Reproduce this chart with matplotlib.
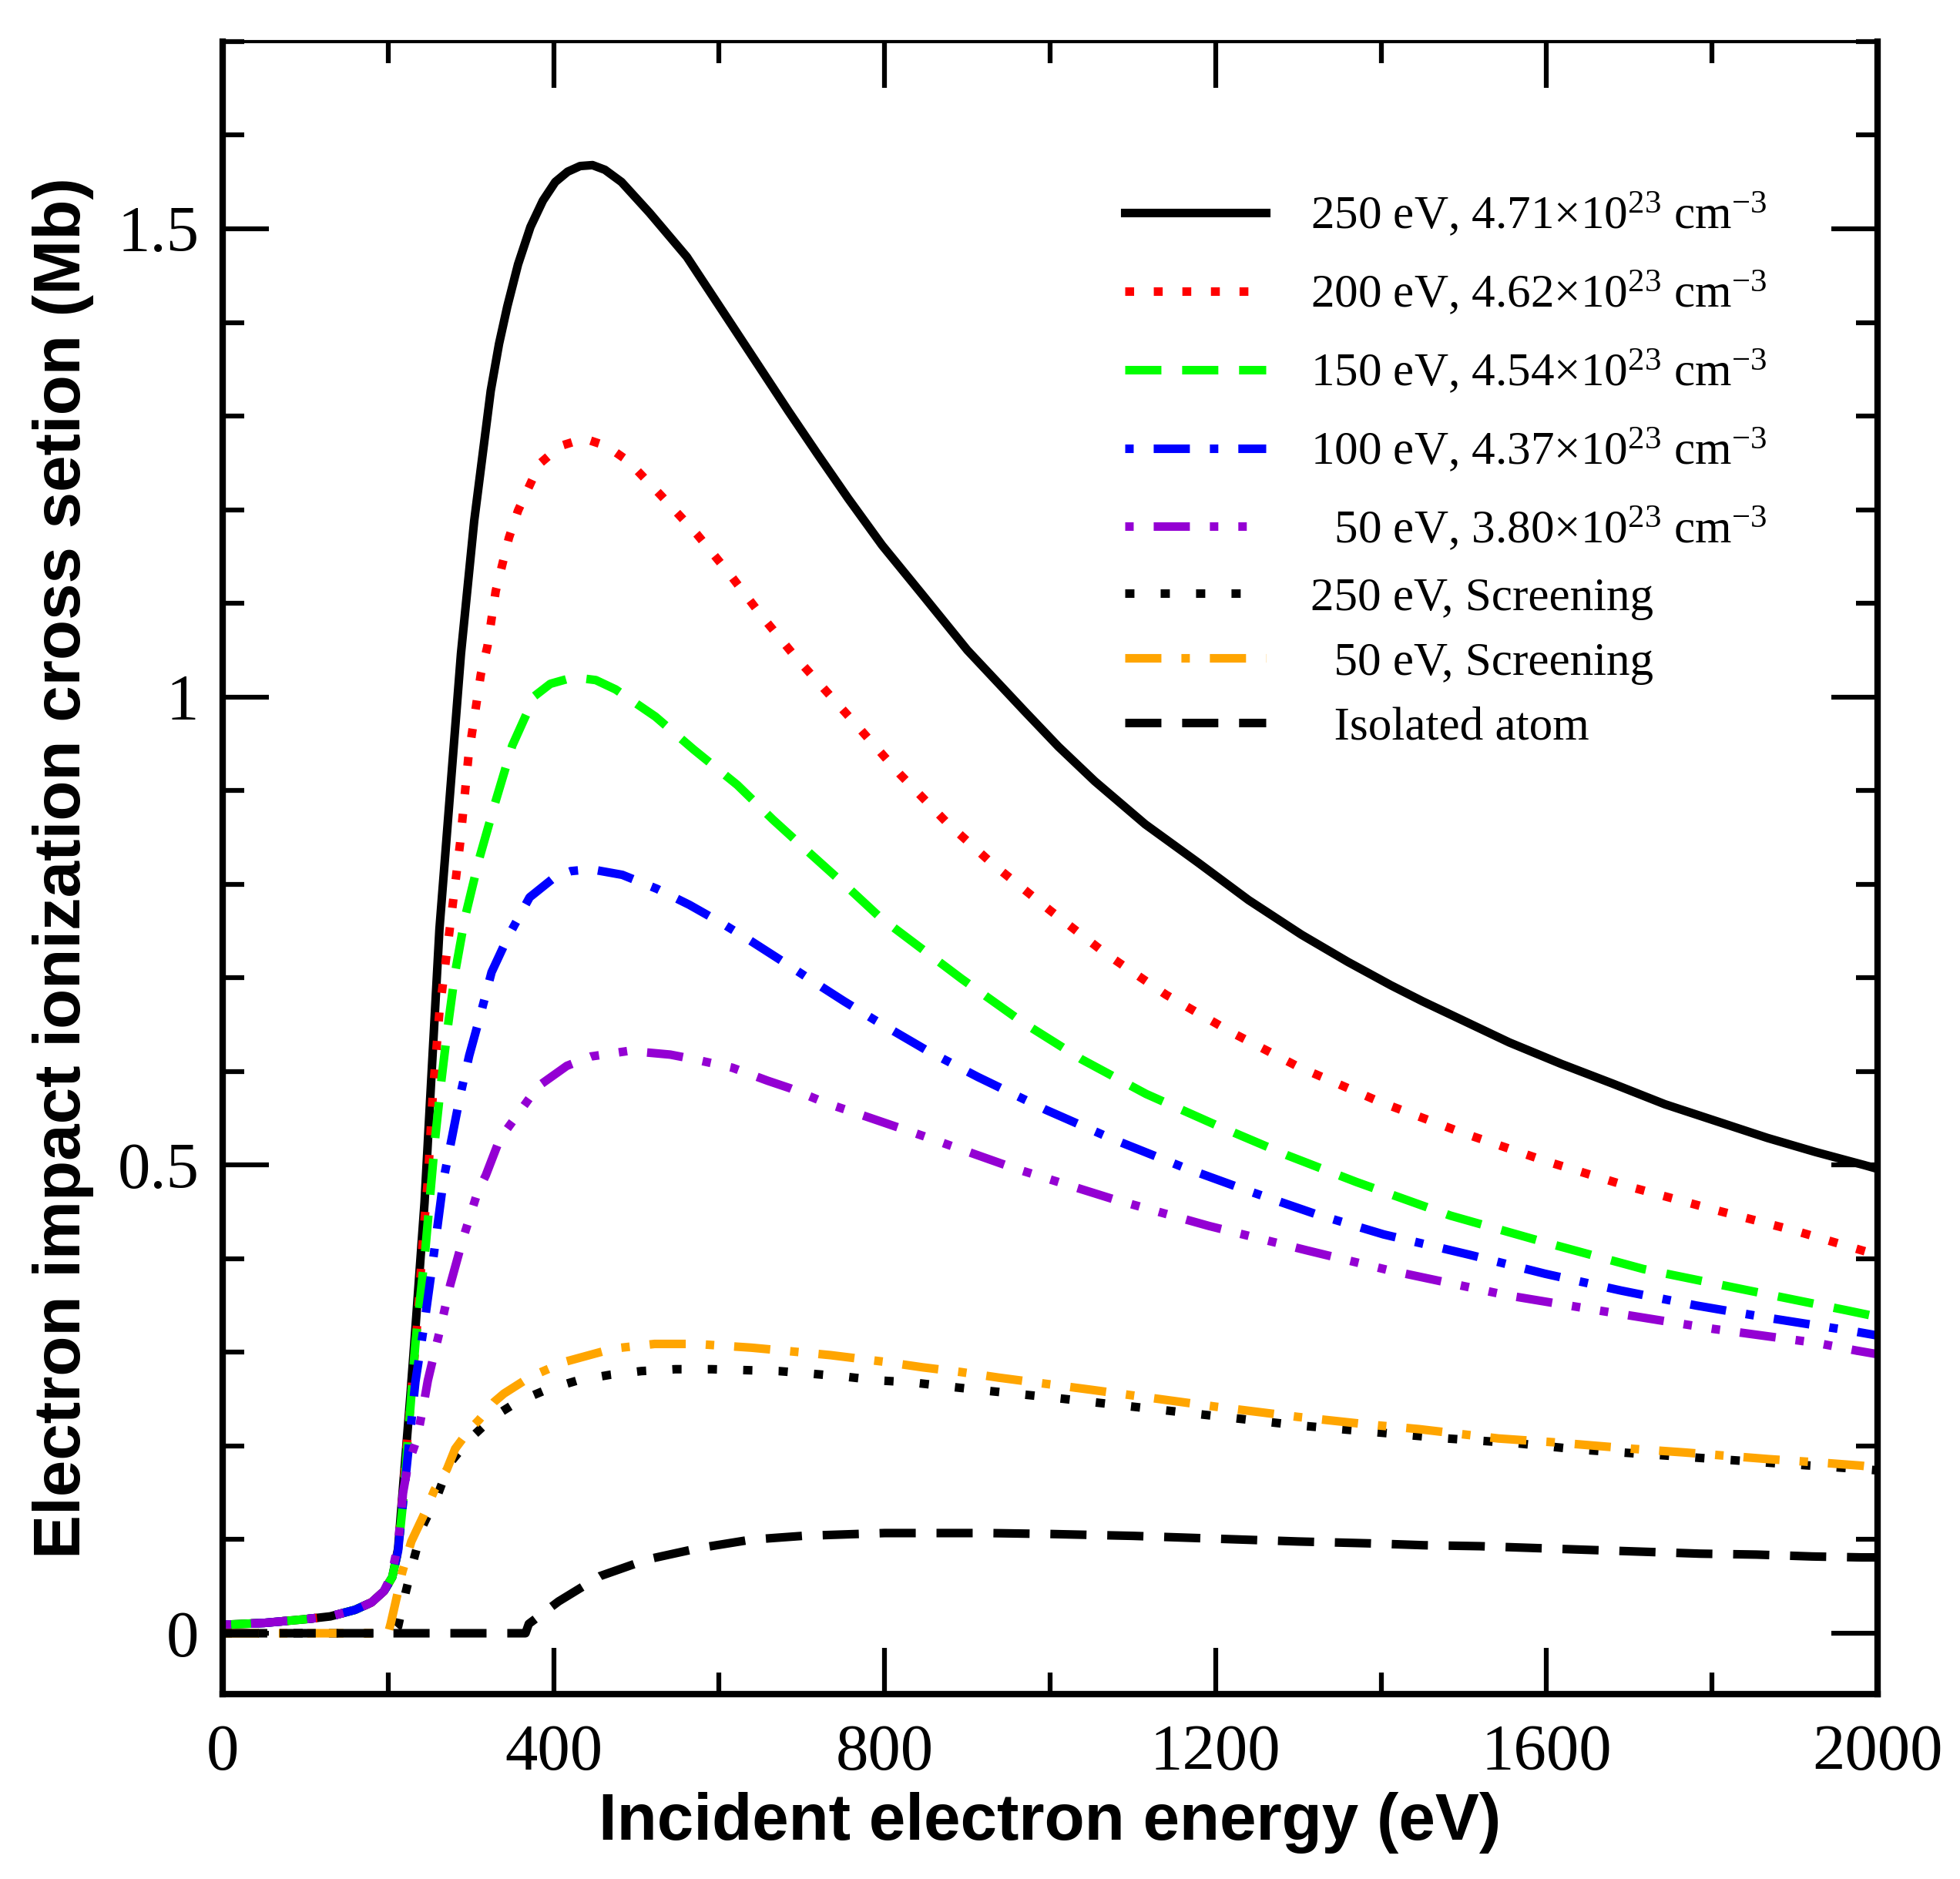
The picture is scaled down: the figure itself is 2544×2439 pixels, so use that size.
import matplotlib
matplotlib.use('Agg')
import matplotlib.pyplot as plt
from matplotlib import font_manager

# ---- data (x in eV, y in Mb) ----
x_250 = [0, 50, 100, 130, 160, 180, 195, 205, 212, 217, 222, 227, 234, 244, 262, 288, 304, 324,
         334, 344, 357, 372, 387, 402, 417, 432, 447, 462, 482, 516, 561, 614, 684, 720, 756,
         797, 845, 900, 969, 1010, 1054, 1115, 1179, 1240, 1304, 1360, 1412, 1450, 1493, 1555,
         1618, 1680, 1743, 1805, 1867, 1925, 1984, 2000]
y_250 = [0.009, 0.011, 0.015, 0.018, 0.025, 0.033, 0.045, 0.060, 0.090, 0.145, 0.200, 0.255, 0.338,
         0.460, 0.752, 1.046, 1.188, 1.327, 1.377, 1.417, 1.462, 1.502, 1.530, 1.550, 1.561, 1.567,
         1.568, 1.563, 1.550, 1.517, 1.470, 1.399, 1.305, 1.258, 1.212, 1.162, 1.110, 1.050, 0.985,
         0.947, 0.910, 0.864, 0.823, 0.783, 0.746, 0.717, 0.692, 0.675, 0.657, 0.631, 0.608, 0.587,
         0.565, 0.547, 0.529, 0.514, 0.500, 0.496]

x_200 = [0, 50, 100, 130, 160, 180, 195, 205, 212, 217, 222, 228, 236, 242, 248, 254, 262, 275,
         287, 297, 312, 320, 330, 346, 357, 383, 408, 437, 464, 490, 530, 573, 613, 651, 691, 760,
         818, 875, 930, 1000, 1067, 1140, 1221, 1300, 1400, 1500, 1600, 1700, 1800, 1900, 2000]
y_200 = [0.009, 0.011, 0.015, 0.018, 0.025, 0.033, 0.045, 0.060, 0.088, 0.140, 0.195, 0.255, 0.340,
         0.420, 0.484, 0.576, 0.664, 0.756, 0.844, 0.936, 1.024, 1.054, 1.113, 1.170, 1.199, 1.249,
         1.268, 1.276, 1.268, 1.252, 1.215, 1.174, 1.131, 1.087, 1.044, 0.976, 0.918, 0.866, 0.822,
         0.772, 0.726, 0.682, 0.641, 0.605, 0.567, 0.534, 0.504, 0.477, 0.453, 0.430, 0.404]

x_150 = [0, 50, 100, 130, 160, 180, 195, 205, 212, 218, 225, 233, 245, 252, 257, 264, 272, 281,
         293, 310, 329, 350, 377, 396, 424, 451, 475, 523, 569, 622, 665, 711, 755, 794, 893, 966,
         1038, 1116, 1200, 1288, 1370, 1484, 1600, 1717, 1839, 1962, 2000]
y_150 = [0.009, 0.011, 0.015, 0.018, 0.025, 0.033, 0.045, 0.060, 0.088, 0.140, 0.220, 0.310, 0.410,
         0.480, 0.530, 0.588, 0.647, 0.706, 0.765, 0.827, 0.886, 0.948, 1.001, 1.014, 1.021, 1.018,
         1.008, 0.979, 0.944, 0.906, 0.869, 0.832, 0.797, 0.765, 0.699, 0.653, 0.613, 0.576, 0.543,
         0.510, 0.482, 0.446, 0.417, 0.389, 0.367, 0.345, 0.338]

x_100 = [0, 50, 100, 130, 160, 180, 195, 205, 212, 218, 225, 233, 244, 256, 267, 277, 287, 298,
         312, 325, 345, 371, 402, 421, 445, 483, 525, 564, 604, 639, 676, 714, 751, 788, 850, 913,
         995, 1075, 1160, 1241, 1320, 1403, 1508, 1598, 1690, 1781, 1874, 1968, 2000]
y_100 = [0.009, 0.011, 0.015, 0.018, 0.025, 0.033, 0.045, 0.060, 0.088, 0.140, 0.200, 0.269, 0.332,
         0.410, 0.485, 0.529, 0.574, 0.617, 0.662, 0.706, 0.744, 0.786, 0.808, 0.814, 0.816, 0.810,
         0.795, 0.778, 0.758, 0.739, 0.718, 0.696, 0.675, 0.655, 0.623, 0.594, 0.559, 0.528, 0.498,
         0.472, 0.448, 0.426, 0.404, 0.384, 0.366, 0.350, 0.336, 0.323, 0.318]

x_50 = [0, 50, 100, 130, 160, 180, 195, 204, 212, 218, 224, 235, 244, 248, 255, 263, 275, 290,
        308, 318, 335, 354, 381, 416, 445, 491, 541, 570, 616, 659, 686, 730, 774, 847, 959,
        1075, 1192, 1310, 1408, 1552, 1675, 1802, 1927, 1974, 2000]
y_50 = [0.009, 0.011, 0.015, 0.018, 0.025, 0.033, 0.045, 0.062, 0.095, 0.150, 0.180, 0.208, 0.250,
        0.270, 0.296, 0.325, 0.372, 0.420, 0.471, 0.489, 0.528, 0.551, 0.584, 0.606, 0.616, 0.622,
        0.618, 0.613, 0.604, 0.590, 0.582, 0.566, 0.553, 0.531, 0.496, 0.464, 0.435, 0.409, 0.388,
        0.361, 0.343, 0.325, 0.310, 0.302, 0.298]

x_250s = [0, 205, 212, 221, 231, 242, 260, 274, 298, 327, 356, 391, 429, 468, 506, 547, 591, 632,
          672, 714, 753, 793, 832, 872, 913, 1000, 1100, 1200, 1300, 1403, 1480, 1563, 1642, 1725,
          1806, 1887, 1970, 2000]
y_250s = [0.0, 0.0, 0.007, 0.043, 0.079, 0.115, 0.148, 0.181, 0.207, 0.231, 0.247, 0.260, 0.270,
          0.276, 0.280, 0.282, 0.282, 0.281, 0.280, 0.277, 0.274, 0.270, 0.268, 0.264, 0.260, 0.252,
          0.242, 0.232, 0.222, 0.214, 0.208, 0.203, 0.196, 0.191, 0.186, 0.181, 0.176, 0.174]

x_50s = [0, 200, 203, 210, 217, 228, 244, 256, 271, 281, 297, 310, 328, 340, 372, 414, 472, 522,
         572, 639, 688, 735, 799, 846, 892, 938, 1050, 1200, 1300, 1384, 1446, 1542, 1608, 1704,
         1768, 1868, 1935, 1980, 2000]
y_50s = [0.0, 0.0, 0.010, 0.037, 0.065, 0.098, 0.128, 0.153, 0.175, 0.197, 0.216, 0.228, 0.247,
         0.256, 0.274, 0.290, 0.304, 0.309, 0.309, 0.305, 0.301, 0.297, 0.290, 0.284, 0.279, 0.273,
         0.260, 0.242, 0.231, 0.223, 0.218, 0.208, 0.204, 0.197, 0.193, 0.186, 0.182, 0.179, 0.177]

x_iso = [0, 366, 370, 406, 456, 514, 576, 639, 701, 800, 925, 1000, 1100, 1200, 1300, 1386, 1452,
         1519, 1586, 1652, 1719, 1785, 1854, 1921, 1981, 2000]
y_iso = [0.0, 0.0, 0.010, 0.034, 0.061, 0.079, 0.091, 0.100, 0.104, 0.107, 0.107, 0.106, 0.104,
         0.101, 0.098, 0.096, 0.094, 0.093, 0.091, 0.089, 0.087, 0.085, 0.084, 0.082, 0.081, 0.081]

labels = [
    '250 eV, 4.71\u00d710$^{23}$ cm$^{-3}$',
    '200 eV, 4.62\u00d710$^{23}$ cm$^{-3}$',
    '150 eV, 4.54\u00d710$^{23}$ cm$^{-3}$',
    '100 eV, 4.37\u00d710$^{23}$ cm$^{-3}$',
    '  50 eV, 3.80\u00d710$^{23}$ cm$^{-3}$',
    '250 eV, Screening',
    '  50 eV, Screening',
    '  Isolated atom',
]

xticks = [0, 400, 800, 1200, 1600, 2000]
yticks = [0, 0.5, 1, 1.5]
ytick_labels = ['0', '0.5', '1', '1.5']

# ---- fonts ----
names = {f.name for f in font_manager.fontManager.ttflist}
if 'Liberation Sans Narrow' in names:
    label_font, label_size = 'Liberation Sans Narrow', 68
else:
    label_font, label_size = 'Liberation Sans', 61.5

plt.rcParams['font.family'] = ['Liberation Serif', 'DejaVu Serif']
plt.rcParams['mathtext.fontset'] = 'custom'
plt.rcParams['mathtext.rm'] = 'Liberation Serif'
plt.rcParams['mathtext.it'] = 'Liberation Serif'
plt.rcParams['lines.scale_dashes'] = False

fig = plt.figure(figsize=(25.44, 24.39), dpi=100)
ax = fig.add_axes([0.1136, 0.0984, 0.8443, 0.8795])

lw = 8
l1, = ax.plot(x_250, y_250, color='black', lw=lw)
l2, = ax.plot(x_200, y_200, color='#ff0000', lw=lw, dashes=(8.3, 18.4))
l3, = ax.plot(x_150, y_150, color='#00ff00', lw=lw, dashes=(33.8, 19.4))
l4, = ax.plot(x_100, y_100, color='#0000ff', lw=lw, dashes=(7.9, 18.7, 33.8, 18.7))
l5, = ax.plot(x_50, y_50, color='#9400d3', lw=lw, dashes=(7.9, 18.7, 33.8, 18.7, 7.9, 18.7))
l6, = ax.plot(x_250s, y_250s, color='black', lw=lw, dashes=(8.6, 24.5))
l7, = ax.plot(x_50s, y_50s, color='#ffa500', lw=lw, dashes=(33.8, 18.7, 7.9, 18.7))
l8, = ax.plot(x_iso, y_iso, color='black', lw=lw, dashes=(33.8, 19.4))

ax.set_xlim(0, 2000)
ax.set_ylim(-0.065, 1.7)
ax.set_xticks(xticks)
ax.set_xticks(range(0, 2001, 200), minor=True)
ax.set_yticks(yticks)
ax.set_yticklabels(ytick_labels)
ax.set_yticks([i / 10 for i in range(0, 18)], minor=True)

ax.tick_params(which='both', direction='in', top=True, right=True, width=4.5)
ax.tick_params(which='major', length=43, labelsize=61, pad=22)
ax.tick_params(which='minor', length=20)
ax.tick_params(axis='x', which='major', pad=28)

for side in ['left', 'right', 'bottom']:
    ax.spines[side].set_linewidth(6)
ax.spines['top'].set_linewidth(3)

ax.set_xlabel('Incident electron energy (eV)', family=label_font, weight='bold',
              size=label_size, labelpad=8)
ax.set_ylabel('Electron impact ionization cross setion (Mb)', family=label_font,
              weight='bold', size=label_size, labelpad=22)

leg_kw = dict(loc='upper left', frameon=False, fontsize=44, handlelength=3.0,
              handletextpad=0.95, borderpad=0, borderaxespad=0)
leg1 = ax.legend([l1, l2, l3, l4, l5], labels[:5], bbox_to_anchor=(0.545, 0.909),
                 labelspacing=0.665, **leg_kw)
ax.add_artist(leg1)
ax.legend([l6, l7, l8], labels[5:], bbox_to_anchor=(0.545, 0.676),
          labelspacing=0.46, **leg_kw)

fig.savefig('out.png', dpi=100)
